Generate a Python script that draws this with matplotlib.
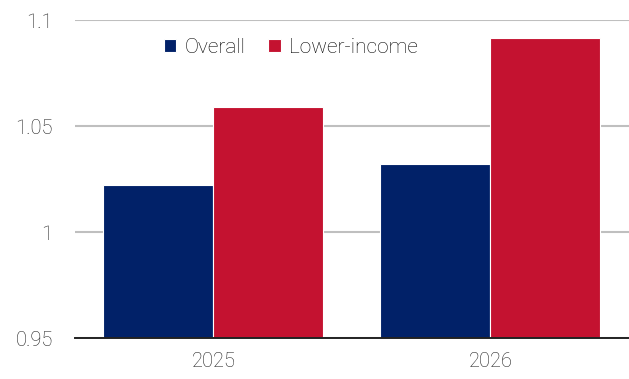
import matplotlib.pyplot as plt
import numpy as np

years = ["2025", "2026"]
series_names = ["Overall", "Lower-income"]
overall = [1.022, 1.032]
lower_income = [1.059, 1.0915]
y_ticks = [0.95, 1.0, 1.05, 1.1]
y_labels = ["0.95", "1", "1.05", "1.1"]

navy = "#012168"
red = "#c41230"

plt.rcParams["font.family"] = ["Roboto", "DejaVu Sans"]
plt.rcParams["font.weight"] = "light"

fig = plt.figure(figsize=(6.29, 3.79), dpi=100)
ax = fig.add_axes([0.119, 0.108, 0.881, 0.839])

x = np.arange(len(years))
w = 0.397
ax.bar(x - w / 2, overall, w, color=navy, edgecolor="white", linewidth=0.8,
       label=series_names[0], zorder=3)
ax.bar(x + w / 2, lower_income, w, color=red, edgecolor="white", linewidth=0.8,
       label=series_names[1], zorder=3)

ax.set_xlim(-0.5, 1.5)
ax.set_ylim(0.95, 1.1)
ax.set_yticks(y_ticks)
ax.set_yticklabels(y_labels)
ax.set_xticks(x)
ax.set_xticklabels(years)
ax.tick_params(axis="both", length=0, labelsize=14.5, colors="#222222")
ax.tick_params(axis="y", pad=16)
ax.tick_params(axis="x", pad=10)

ax.yaxis.grid(True, color="#bfbfbf", linewidth=1.5, zorder=0)
ax.set_axisbelow(True)
for s in ["top", "right", "left"]:
    ax.spines[s].set_visible(False)
ax.spines["bottom"].set_color("#222222")
ax.spines["bottom"].set_linewidth(1.4)
ax.spines["bottom"].set_zorder(4)

ax.legend(loc="center left", bbox_to_anchor=(0.145, 0.915), ncol=2, frameon=False,
          fontsize=15, handlelength=0.6, handleheight=0.6, handletextpad=0.4,
          columnspacing=1.1, borderaxespad=0)

fig.savefig("out.png", dpi=100)
